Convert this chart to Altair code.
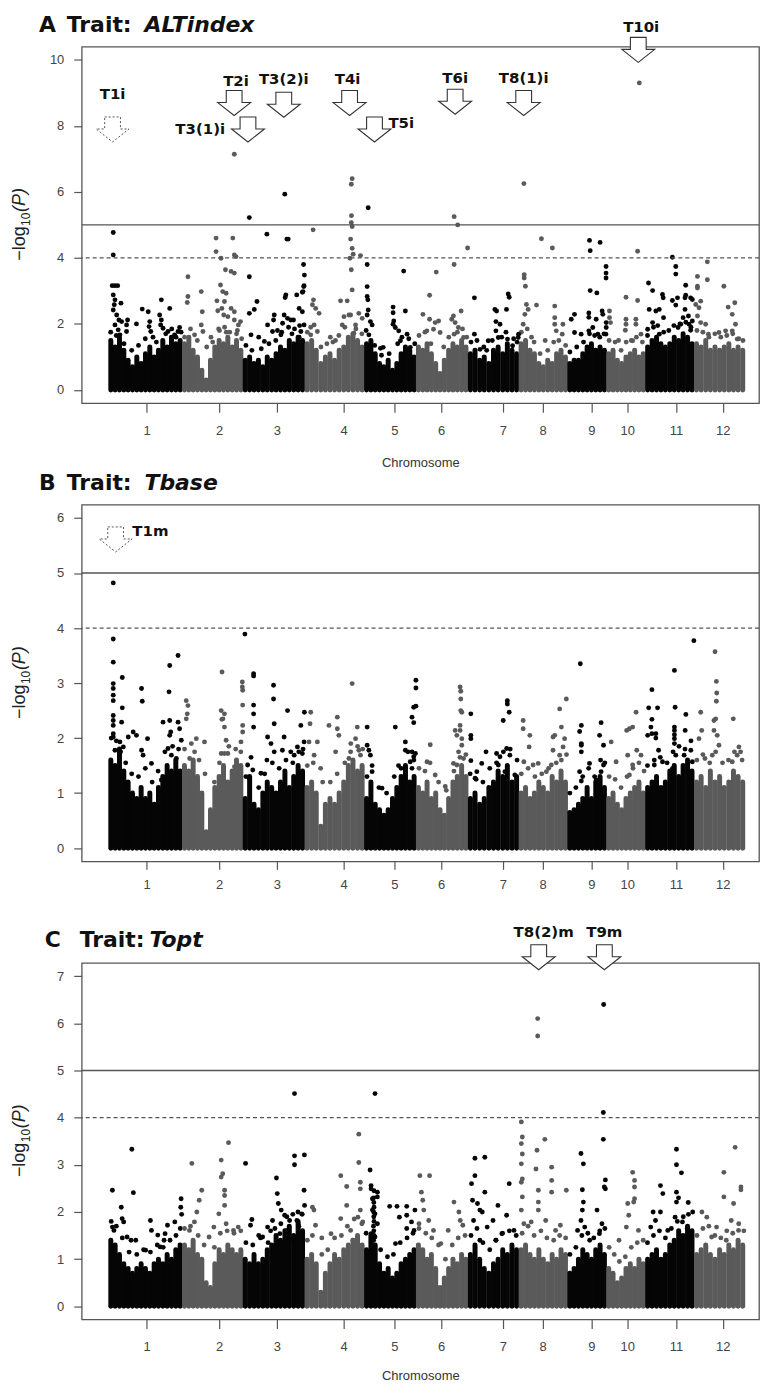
import altair as alt
import numpy as np
import pandas as pd

# ---------------- data ----------------
CHR_LEN = [43.2, 35.6, 36.2, 35.0, 30.4, 30.4, 29.8, 28.6, 22.8, 22.8, 28.6, 29.8]
CHR_TICK = [22.2, 64.8, 98.7, 137.8, 167.6, 195.0, 231.2, 254.5, 283.1, 304.1, 332.7, 360.1]
X_DOMAIN = [-15.8, 381.4]

# heights (-log10 P) reached by the dense columns of SNPs, evenly spaced along each chromosome
A_COL = [
    [1.5, 1.3, 1.6, 1.2, 0.9, 0.7, 1.0, 0.8, 1.1, 1.3, 1.0, 1.2, 1.5, 1.3, 1.6, 1.4, 1.5],
    [1.4, 1.6, 1.2, 1.0, 0.6, 0.3, 0.9, 1.3, 1.5, 1.4, 1.6, 1.3, 1.5, 1.2],
    [0.9, 1.0, 0.8, 0.9, 0.7, 1.0, 0.9, 1.1, 1.3, 1.2, 1.5, 1.4, 1.6, 1.5],
    [1.4, 1.5, 1.2, 0.8, 1.0, 1.1, 0.9, 1.2, 1.3, 1.6, 1.7, 1.5, 1.3],
    [1.4, 1.5, 1.1, 0.8, 0.7, 0.9, 0.6, 0.8, 1.1, 1.3, 1.2, 1.0],
    [1.3, 1.2, 1.4, 1.1, 0.8, 0.5, 0.9, 1.2, 1.4, 1.3, 1.5, 1.3],
    [1.1, 1.2, 0.9, 1.0, 0.8, 1.2, 1.3, 1.1, 1.4, 1.2, 1.1],
    [1.4, 1.5, 1.2, 1.1, 0.8, 0.7, 0.9, 0.8, 1.1, 1.2, 1.0],
    [0.8, 0.9, 0.9, 1.1, 1.3, 1.4, 1.2, 1.3, 1.2],
    [1.1, 1.2, 0.9, 0.8, 1.0, 1.1, 1.2, 1.0, 1.1],
    [1.3, 1.5, 1.6, 1.4, 1.3, 1.4, 1.6, 1.5, 1.7, 1.6, 1.4],
    [1.4, 1.3, 1.5, 1.2, 1.3, 1.2, 1.3, 1.4, 1.2, 1.3, 1.2],
]
B_COL = [
    [1.6, 1.5, 1.8, 1.4, 1.2, 1.0, 0.9, 1.1, 0.9, 1.0, 0.8, 1.1, 1.3, 1.5, 1.4, 1.6, 1.4],
    [1.5, 1.4, 1.6, 1.3, 1.0, 0.3, 0.7, 1.1, 1.3, 1.5, 1.2, 1.4, 1.6, 1.5],
    [0.9, 1.3, 0.8, 0.7, 1.0, 1.2, 1.1, 1.0, 1.2, 1.4, 1.1, 1.3, 1.5, 1.4],
    [1.1, 1.2, 1.0, 0.4, 0.8, 0.9, 0.8, 1.0, 1.2, 1.5, 1.6, 1.4, 1.5],
    [0.9, 1.2, 0.8, 0.7, 0.6, 0.7, 0.9, 1.1, 1.3, 1.5, 1.2, 1.3],
    [1.1, 1.0, 1.2, 0.9, 1.0, 0.7, 0.6, 0.9, 1.2, 1.3, 1.5, 1.3],
    [0.9, 1.0, 0.8, 0.9, 1.1, 1.2, 1.4, 1.3, 1.5, 1.2, 1.3],
    [1.0, 1.1, 0.9, 1.0, 1.2, 1.1, 1.0, 1.3, 1.2, 1.4, 1.2],
    [0.65, 0.7, 0.8, 0.9, 1.1, 0.9, 1.2, 1.3, 1.1],
    [0.9, 1.0, 0.8, 0.7, 0.9, 1.0, 1.1, 1.2, 1.0],
    [1.1, 1.2, 1.3, 1.1, 1.2, 1.4, 1.5, 1.3, 1.5, 1.6, 1.4],
    [1.2, 1.3, 1.1, 1.4, 1.2, 1.3, 1.1, 1.2, 1.4, 1.3, 1.2],
]
C_COL = [
    [1.4, 1.3, 1.1, 0.9, 0.8, 0.7, 0.8, 0.9, 0.8, 0.7, 0.9, 1.0, 0.9, 1.1, 1.0, 1.2, 1.3],
    [1.3, 1.2, 1.4, 1.1, 1.0, 0.5, 0.4, 0.9, 1.2, 1.1, 1.3, 1.2, 1.1, 1.2],
    [1.0, 0.9, 1.1, 0.9, 1.0, 1.2, 1.3, 1.5, 1.4, 1.6, 1.7, 1.5, 1.8, 1.6],
    [1.0, 1.1, 0.9, 0.3, 0.7, 0.9, 1.1, 1.0, 1.2, 1.3, 1.4, 1.5, 1.3],
    [1.2, 1.5, 1.3, 0.9, 0.7, 0.8, 0.6, 0.7, 0.9, 1.0, 1.1, 1.2],
    [1.3, 1.2, 1.0, 1.1, 0.8, 0.4, 0.6, 0.8, 1.0, 0.9, 1.1, 1.0],
    [1.1, 1.3, 1.0, 0.8, 0.7, 0.9, 1.0, 1.2, 1.1, 1.3, 1.2],
    [1.2, 1.3, 1.1, 1.0, 1.2, 1.0, 0.9, 1.1, 1.0, 1.2, 1.1],
    [0.7, 0.8, 1.0, 1.2, 1.1, 1.0, 1.2, 1.3, 1.1],
    [0.8, 0.7, 0.5, 0.6, 0.8, 0.9, 0.8, 1.0, 0.9],
    [1.0, 1.1, 1.2, 1.0, 1.1, 1.3, 1.4, 1.6, 1.5, 1.7, 1.6],
    [1.1, 1.2, 1.3, 1.1, 1.0, 1.2, 1.1, 1.3, 1.2, 1.4, 1.3],
]

# loose SNPs fringing the top of the dense mass: (cumulative position Mb, -log10 P)
A_FRINGE = [
    [(1.2,1.75),(4.5,1.65),(9.0,1.4),(13.5,1.2),(17.5,1.35),(21.5,1.55),(26.0,1.6),(28.0,1.45),(33.5,1.7),(37.0,1.85),(39.5,1.6),(42.5,1.75)],
    [(44.5,1.6),(48.0,1.85),(52.0,1.5),(57.5,1.3),(61.0,1.45),(64.5,1.85),(68.0,1.9),(71.0,1.75),(75.5,1.8),(78.0,1.55)],
    [(80.5,1.35),(84.0,1.2),(89.5,1.25),(94.0,1.4),(98.0,1.5),(101.5,1.75),(105.5,1.9),(109.0,1.85),(112.0,1.95)],
    [(116.5,1.75),(118.5,1.9),(124.5,1.3),(128.0,1.4),(131.5,1.45),(135.0,1.65),(138.5,1.9),(145.0,1.85),(148.5,1.7)],
    [(151.0,1.8),(156.0,1.35),(160.0,1.05),(164.5,1.1),(169.5,1.4),(172.0,1.6),(176.0,1.55),(179.5,1.4)],
    [(182.0,1.65),(185.5,1.75),(189.0,1.4),(196.5,1.3),(199.5,1.6),(204.5,1.75),(207.5,1.85),(210.0,1.6)],
    [(212.5,1.45),(216.0,1.5),(220.0,1.3),(225.0,1.5),(230.5,1.6),(233.0,1.75),(237.5,1.55),(239.5,1.45)],
    [(242.0,1.75),(245.5,1.85),(249.5,1.45),(253.0,1.1),(257.5,1.2),(261.0,1.45),(264.0,1.5),(268.0,1.35)],
    [(270.5,1.15),(274.5,1.3),(278.5,1.45),(282.0,1.7),(285.0,1.65),(288.0,1.6),(290.5,1.7)],
    [(293.5,1.5),(297.0,1.45),(300.5,1.2),(303.5,1.45),(306.5,1.5),(309.5,1.6),(313.0,1.45)],
    [(316.0,1.65),(319.5,1.9),(322.0,1.95),(325.5,1.75),(328.5,1.8),(331.5,1.95),(335.0,2.0),(338.5,2.05),(341.5,1.9)],
    [(345.0,1.8),(348.5,1.75),(352.0,1.6),(355.5,1.7),(359.0,1.6),(362.5,1.65),(366.0,1.7),(369.5,1.55),(372.0,1.5)],
]
B_FRINGE = [
    [(1.5,2.0),(4.5,1.95),(7.0,1.75),(10.0,1.55),(13.5,1.35),(17.5,1.3),(21.5,1.45),(25.5,1.2),(29.0,1.4),(33.0,1.75),(37.5,1.85),(41.0,1.8)],
    [(44.5,1.8),(48.5,1.9),(53.0,1.6),(56.5,1.35),(62.0,1.2),(65.0,1.55),(70.5,1.85),(74.5,1.8),(77.5,1.75)],
    [(80.5,1.3),(83.5,1.65),(88.0,1.1),(91.5,1.35),(96.0,1.55),(100.0,1.45),(104.0,1.6),(108.0,1.55),(111.5,1.75),(114.0,1.8)],
    [(116.5,1.5),(120.0,1.55),(125.5,1.2),(130.0,1.2),(134.0,1.35),(138.5,1.55),(142.0,1.9),(146.0,1.85),(149.0,1.8)],
    [(151.5,1.3),(154.5,1.5),(158.5,1.1),(163.0,1.0),(167.5,1.3),(171.5,1.45),(175.5,1.75),(179.0,1.6)],
    [(182.0,1.45),(185.5,1.4),(188.5,1.55),(193.5,1.2),(198.0,1.05),(202.5,1.4),(206.0,1.65),(209.5,1.7)],
    [(212.0,1.35),(215.5,1.25),(219.5,1.2),(223.5,1.45),(227.5,1.55),(231.5,1.75),(235.5,1.8),(239.5,1.6)],
    [(242.0,1.35),(246.0,1.45),(250.0,1.3),(254.0,1.35),(258.0,1.45),(262.5,1.55),(265.5,1.6),(268.5,1.7)],
    [(270.5,1.0),(274.0,1.1),(278.0,1.3),(281.5,1.45),(285.0,1.3),(288.5,1.6),(291.0,1.55)],
    [(293.5,1.3),(297.0,1.25),(300.5,1.1),(304.0,1.3),(307.5,1.45),(311.0,1.55),(314.0,1.4)],
    [(316.0,1.5),(320.0,1.6),(323.5,1.65),(327.5,1.55),(331.0,1.75),(334.5,1.85),(338.0,1.8),(341.5,1.95)],
    [(345.0,1.6),(348.5,1.7),(352.5,1.55),(356.0,1.75),(360.0,1.55),(363.5,1.6),(367.0,1.75),(371.5,1.6)],
]
C_FRINGE = [
    [(1.5,1.8),(4.5,1.7),(8.0,1.45),(12.0,1.15),(16.5,1.1),(20.5,1.2),(24.5,1.15),(28.5,1.3),(32.0,1.25),(36.0,1.4),(39.5,1.5),(42.0,1.65)],
    [(44.5,1.65),(48.0,1.7),(52.5,1.5),(56.0,1.3),(62.0,1.25),(65.5,1.55),(69.5,1.6),(73.5,1.55),(77.5,1.6)],
    [(80.5,1.35),(84.5,1.3),(89.0,1.45),(93.5,1.35),(97.5,1.65),(101.0,1.75),(104.5,1.9),(108.0,1.95),(111.0,2.0),(113.5,1.95)],
    [(116.5,1.4),(119.5,1.5),(125.0,1.1),(128.5,1.2),(132.5,1.45),(136.5,1.5),(140.0,1.7),(144.0,1.85),(148.5,1.75)],
    [(151.0,1.55),(159.5,1.2),(163.5,1.05),(167.0,1.1),(171.0,1.35),(175.0,1.45),(178.5,1.55)],
    [(182.0,1.65),(186.0,1.55),(189.5,1.45),(193.5,1.3),(197.5,1.0),(201.5,1.3),(205.0,1.45),(209.0,1.5)],
    [(212.5,1.5),(216.0,1.65),(219.5,1.35),(223.5,1.2),(227.0,1.4),(231.0,1.55),(235.0,1.6),(239.0,1.5)],
    [(242.5,1.55),(246.0,1.7),(249.5,1.5),(253.5,1.6),(257.0,1.45),(261.0,1.4),(264.5,1.5),(268.0,1.45)],
    [(270.5,1.1),(274.0,1.25),(277.5,1.5),(281.0,1.55),(284.5,1.45),(288.0,1.6),(291.0,1.65)],
    [(293.5,1.25),(296.5,1.1),(299.5,0.95),(303.0,1.05),(306.5,1.25),(310.0,1.35),(313.5,1.4)],
    [(316.0,1.35),(319.5,1.5),(323.0,1.6),(326.5,1.45),(330.0,1.65),(333.5,1.8),(337.0,1.9),(340.0,1.95),(342.5,2.0)],
    [(345.0,1.5),(348.5,1.65),(352.0,1.7),(355.5,1.5),(359.0,1.45),(362.5,1.6),(366.0,1.55),(369.5,1.75),(372.5,1.6)],
]

# individual SNPs standing clear of the mass: (cumulative position Mb, -log10 P)
A_PTS = [
    [(2.7,4.77),(2.7,4.09),(2.1,3.16),(3.7,3.16),(5.3,3.16),(2.7,2.88),(3.7,2.73),(3.3,2.58),(2.7,2.42),(4.7,2.27),(6.0,2.12),(7.6,2.07),(3.7,1.97),(5.6,1.82),(10.5,1.77),(6.6,1.67),(7.2,2.63),(11.1,2.12),(10.5,1.97),(16.3,2.0),(19.7,2.45),(23.2,2.37),(24.1,2.07),(23.7,1.92),(24.7,1.77),(30.9,2.73),(29.9,2.27),(30.9,2.12),(30.5,1.97),(31.9,1.87),(35.8,2.47),(34.8,1.77),(38.7,1.67),(40.7,1.77),(41.6,1.89)],
    [(46.5,3.43),(46.5,2.83),(46.1,2.65),(54.3,2.98),(54.9,2.37),(54.3,1.97),(55.3,1.77),(50.4,1.67),(63.0,4.6),(63.0,4.19),(65.9,3.99),(68.5,3.64),(71.8,3.59),(73.7,3.54),(65.6,3.18),(66.9,2.98),(68.9,2.93),(67.9,2.68),(66.4,2.47),(67.5,2.27),(69.9,2.22),(71.8,2.47),(73.7,2.37),(73.7,2.12),(76.1,1.97),(77.3,2.07),(72.8,4.6),(73.7,4.09),(74.7,4.04),(63.5,2.7),(64.0,2.4),(65.0,1.8),(60.0,1.6),(69.0,1.75),(75.0,1.7),(73.7,7.14)],
    [(82.5,5.22),(82.5,3.43),(82.5,2.32),(83.5,1.67),(87.0,2.68),(85.4,2.44),(92.8,4.72),(93.2,1.97),(97.1,2.27),(96.7,2.12),(96.1,1.77),(91.3,1.47),(103.3,5.93),(104.5,4.57),(105.3,4.57),(103.9,2.88),(103.5,2.8),(102.9,2.27),(104.9,2.17),(106.8,2.12),(102.0,2.02),(101.0,1.67),(108.4,2.12),(110.3,2.88),(111.7,2.47),(113.6,2.96),(114.4,3.13),(114.3,3.8),(114.8,3.48),(114.6,3.16),(114.0,2.98),(113.6,2.37),(112.7,1.77),(114.6,1.97),(111.7,1.6),(88.0,1.6),(99.0,1.8),(107.5,1.7)],
    [(119.9,4.85),(120.1,2.73),(119.5,2.58),(121.4,2.47),(123.4,2.32),(120.5,1.97),(122.4,1.77),(118.5,1.67),(136.0,2.7),(139.9,2.7),(137.0,1.97),(138.0,2.22),(140.9,2.27),(142.8,6.4),(142.3,6.23),(142.4,5.28),(142.3,5.07),(142.8,4.95),(141.9,4.57),(142.8,4.29),(143.4,4.11),(147.7,4.07),(141.5,3.99),(142.3,3.64),(142.8,3.03),(141.9,2.27),(144.8,1.97),(146.7,2.32),(148.7,2.17),(143.8,1.72),(130.0,1.6),(133.0,1.5)],
    [(152.2,5.52),(151.6,3.8),(151.6,3.13),(151.6,2.83),(152.0,2.73),(152.2,2.42),(151.6,2.27),(153.5,2.07),(154.5,1.97),(159.4,1.26),(152.6,1.67),(173.0,3.6),(166.8,2.51),(166.8,2.34),(167.2,2.09),(166.8,1.99),(168.1,1.89),(170.1,1.79),(174.0,2.39),(175.0,1.69),(171.1,1.49),(161.0,1.29),(176.9,1.29)],
    [(202.6,5.25),(204.7,5.0),(210.5,4.3),(202.6,3.8),(192.1,3.57),(188.2,2.87),(184.3,2.29),(188.2,2.14),(191.5,2.04),(193.5,2.09),(190.5,1.84),(186.6,1.79),(194.4,1.74),(201.2,2.14),(202.2,2.24),(203.2,2.04),(206.7,2.39),(205.1,1.89),(202.6,1.69),(208.1,1.59)],
    [(214.5,2.79),(214.5,1.69),(217.8,1.23),(221.7,1.2),(222.6,1.49),(226.5,2.44),(227.5,2.39),(227.1,2.07),(229.5,1.99),(227.1,1.79),(228.5,1.59),(234.3,2.91),(234.9,2.81),(233.3,2.44),(233.9,1.54),(236.9,1.34),(240.2,1.59),(240.4,1.69)],
    [(243.5,6.25),(243.7,3.49),(243.7,3.39),(244.4,3.14),(245.0,2.59),(244.1,2.29),(246.0,2.44),(243.1,1.99),(250.9,2.57),(253.8,4.58),(260.2,4.3),(261.6,2.54),(261.6,2.19),(261.6,1.99),(262.5,1.79),(266.4,1.99),(266.0,1.69),(248.0,1.6),(256.0,1.5)],
    [(271.3,2.14),(273.2,2.29),(277.1,1.69),(273.2,1.74),(282.0,4.53),(282.4,4.22),(288.2,4.47),(282.4,3.01),(286.3,2.94),(281.6,2.33),(281.6,2.2),(285.9,2.14),(281.6,1.79),(283.9,1.89),(289.4,2.39),(289.8,2.29),(286.9,1.69),(291.7,3.74),(291.7,3.54),(291.7,3.39),(291.8,2.04),(291.8,1.89),(291.6,1.69)],
    [(293.7,2.39),(293.7,2.19),(294.3,2.04),(303.4,2.81),(303.4,2.14),(303.4,1.99),(303.0,1.81),(310.2,4.2),(310.2,2.71),(309.2,2.14),(309.2,1.99),(307.3,1.49),(312.2,1.69),(299.0,1.5),(311.2,9.3)],
    [(316.6,3.24),(319.0,3.01),(317.0,2.44),(319.0,2.04),(320.9,2.39),(322.9,2.44),(324.8,2.89),(325.2,2.79),(325.4,2.19),(316.1,1.84),(322.9,1.69),(330.6,4.02),(332.6,3.74),(332.6,3.51),(330.6,2.71),(332.6,2.57),(333.6,2.79),(338.4,3.17),(338.4,2.87),(338.0,2.79),(341.3,2.79),(342.3,2.74),(338.0,2.44),(336.9,2.19),(340.0,2.24),(333.9,1.89),(335.5,1.99),(340.4,1.99),(342.3,2.09),(341.3,1.81)],
    [(345.3,3.44),(345.3,3.14),(345.3,3.09),(347.2,2.69),(346.2,2.49),(344.3,2.59),(351.1,3.88),(351.1,3.34),(345.3,2.24),(347.2,2.04),(350.1,1.99),(351.7,1.69),(360.8,3.14),(363.3,2.51),(365.7,2.29),(367.2,2.64),(365.7,1.79),(361.8,1.79),(357.9,1.74),(367.6,1.99),(368.6,1.54)],
]
B_PTS = [
    [(2.7,4.82),(2.7,3.80),(2.7,3.38),(2.7,2.99),(2.7,2.9),(2.7,2.78),(2.7,2.68),(2.7,2.41),(2.7,2.32),(2.7,2.23),(2.7,2.08),(2.7,2.02),(8.0,3.1),(8.0,2.55),(7.6,2.29),(6.6,1.93),(8.6,1.84),(3.7,1.78),(11.5,2.02),(14.4,2.11),(16.3,2.05),(19.3,2.9),(19.7,2.67),(19.3,1.78),(20.2,1.69),(22.8,1.99),(25.1,1.54),(30.9,1.24),(35.8,3.32),(35.4,2.84),(40.7,3.5),(31.9,2.29),(35.8,2.32),(36.4,2.11),(35.8,2.05),(40.7,2.29),(41.6,2.17),(34.8,1.81),(39.7,1.63),(42.6,1.96),(36.8,1.69)],
    [(45.5,2.68),(46.5,2.59),(46.1,2.44),(45.5,2.35),(51.4,1.99),(56.2,1.93),(50.4,1.75),(47.5,1.63),(66.5,3.2),(66.0,2.5),(67.9,2.44),(67.0,2.35),(66.4,2.34),(67.9,2.2),(68.9,1.96),(66.0,1.72),(67.9,1.72),(69.9,1.72),(73.8,1.48),(78.4,3.02),(78.4,2.93),(78.6,2.87),(78.6,2.6),(78.6,2.23),(78.6,2.11),(77.6,1.93)],
    [(79.9,3.89),(85.0,3.17),(85.0,3.13),(85.0,2.6),(85.0,2.44),(85.0,2.2),(81.5,1.51),(82.5,1.27),(84.5,1.42),(89.3,1.36),(93.2,2.02),(95.2,1.9),(96.7,2.96),(96.7,2.71),(97.1,2.26),(97.1,1.75),(92.8,1.6),(102.9,2.02),(104.9,2.5),(101.9,1.78),(106.8,1.75),(108.8,1.69),(112.7,2.23),(114.8,2.47),(110.7,1.84),(113.6,1.72),(114.6,1.93)],
    [(118.5,2.47),(118.1,2.26),(120.5,1.69),(117.5,1.93),(122.4,1.93),(124.3,1.45),(129.2,2.23),(134.1,2.38),(134.1,2.17),(133.1,1.75),(135.0,2.05),(142.8,2.99),(145.8,2.2),(144.8,1.99),(141.9,1.75),(140.9,1.63),(146.7,1.78),(147.7,1.69)],
    [(151.6,2.2),(152.6,1.78),(153.5,1.69),(151.6,1.87),(154.5,1.39),(160.3,1.09),(168.1,2.2),(180.2,3.05),(180.2,2.91),(180.2,2.58),(178.9,2.56),(177.9,2.38),(178.9,2.28),(174.0,1.93),(174.0,1.78),(177.9,1.75),(178.9,1.66),(179.9,1.72),(176.9,1.57),(177.9,1.45),(170.0,1.5)],
    [(188.6,1.88),(186.7,1.57),(191.5,1.33),(197.4,1.12),(203.2,2.14),(204.2,2.05),(206.1,2.93),(206.5,2.85),(206.5,2.71),(206.5,2.5),(207.1,2.47),(206.1,2.23),(206.1,2.14),(207.1,1.99),(207.1,1.87),(205.2,1.75),(208.1,1.63),(204.2,1.51),(202.2,1.54)],
    [(212.4,2.44),(212.4,2.05),(212.4,1.99),(212.4,1.59),(215.9,1.39),(218.8,1.54),(221.3,1.75),(214.9,1.27),(231.4,2.32),(233.8,2.68),(233.8,2.62),(234.9,2.47),(227.5,1.72),(229.5,1.66),(228.5,1.51),(233.4,1.81),(235.3,1.69),(232.4,1.39),(238.2,1.33)],
    [(243.1,2.32),(243.1,2.17),(247.0,2.05),(246.6,1.84),(243.5,1.57),(248.9,1.51),(251.9,1.54),(260.6,2.02),(261.6,2.05),(260.6,1.78),(264.5,2.53),(265.5,2.2),(266.5,1.84),(268.4,2.71),(267.4,1.99),(264.5,1.69),(259.6,1.51),(256.7,1.39)],
    [(276.6,3.35),(277.2,2.23),(276.2,2.12),(277.2,1.9),(277.2,1.87),(277.2,1.75),(276.2,1.39),(277.2,1.22),(282.0,1.54),(288.8,2.28),(287.9,2.05),(290.2,1.87),(290.2,1.51),(288.8,1.39),(285.9,1.24)],
    [(294.7,1.93),(297.6,1.57),(303.8,2.14),(305.4,2.17),(307.3,2.2),(309.3,2.47),(309.7,1.78),(307.3,1.51),(312.2,1.69),(304.4,1.69),(305.4,1.33)],
    [(318.6,2.88),(316.7,2.55),(321.9,2.55),(318.6,2.34),(318.0,2.2),(318.6,2.08),(320.9,2.08),(316.1,2.05),(320.9,2.0),(322.5,1.78),(324.8,1.57),(320.0,1.51),(331.8,3.23),(332.2,2.56),(331.8,2.2),(331.8,2.14),(331.8,2.06),(331.8,1.99),(331.8,1.9),(338.5,2.43),(338.1,2.14),(332.6,1.69),(337.5,1.69),(341.4,1.78),(342.3,1.57),(330.7,1.45),(343.2,3.77)],
    [(355.6,3.57),(356.4,3.03),(356.6,2.82),(356.4,2.67),(355.0,2.32),(356.0,2.35),(356.9,2.05),(357.9,1.87),(347.2,2.47),(347.8,2.14),(366.3,2.35),(369.6,1.84),(370.6,1.75),(368.6,1.69),(355.0,2.14),(354.0,1.69),(346.2,1.99),(349.7,1.63),(365.7,1.57)],
]
C_PTS = [
    [(2.2,2.46),(2.2,1.68),(3.1,1.61),(7.4,2.1),(7.9,1.86),(8.8,1.79),(10.8,1.47),(13.6,3.33),(14.5,2.41),(13.1,1.4),(15.9,1.4),(24.5,1.82),(25.1,1.61),(28.8,1.51),(33.1,1.54),(34.5,1.72),(38.8,1.79),(32.5,1.4),(21.7,1.19),(30.2,1.26),(42.5,2.28),(42.3,2.1),(42.8,1.95)],
    [(48.8,3.03),(54.6,2.46),(53.1,2.25),(51.7,2.0),(50.3,1.79),(47.4,1.61),(66.0,3.1),(66.9,2.81),(66.0,2.74),(70.3,3.47),(68.0,2.46),(68.0,2.35),(68.0,2.14),(64.6,1.96),(68.9,1.75),(61.7,1.68),(73.2,1.61),(76.0,1.68),(58.9,1.47)],
    [(80.3,3.03),(84.0,1.84),(83.2,1.72),(98.4,2.72),(98.9,2.39),(99.5,2.18),(101.2,2.04),(96.1,1.82),(93.2,1.68),(90.3,1.47),(109.0,4.51),(109.0,3.19),(109.0,3.0),(114.8,3.21),(114.6,2.46),(114.9,2.14),(113.2,1.96),(110.4,1.82),(106.1,1.82),(104.7,1.61),(107.5,1.4),(103.2,1.93),(100.4,1.54),(95.0,1.6),(111.5,1.7),(88.0,1.5)],
    [(119.5,2.1),(120.4,2.04),(121.3,1.72),(136.1,2.77),(139.6,2.54),(139.6,2.14),(136.1,1.86),(141.9,1.61),(146.7,3.65),(146.7,3.05),(147.6,2.63),(147.6,2.49),(147.6,2.04),(146.2,1.89),(149.0,1.79),(143.3,1.4),(130.4,1.54),(125.0,1.45)],
    [(153.3,2.89),(153.9,2.56),(153.9,2.49),(154.7,2.28),(154.7,2.04),(156.2,4.51),(157.6,2.42),(157.6,2.32),(156.2,1.96),(157.6,1.75),(153.9,1.54),(156.2,1.47),(164.8,2.12),(169.1,2.12),(174.8,2.12),(174.8,1.93),(170.5,1.89),(168.2,1.33),(174.8,1.65),(179.1,1.61),(177.6,1.79),(179.6,2.04),(155.5,1.3),(155.4,1.4),(155.6,1.5),(155.5,1.6),(155.3,1.7),(155.6,1.8),(155.5,1.9),(155.4,2.0),(155.6,2.1),(155.5,2.2),(155.4,2.3),(155.6,2.45)],
    [(182.5,2.77),(188.2,2.77),(183.4,2.42),(184.2,2.25),(184.8,2.04),(182.0,1.75),(187.7,1.82),(190.5,1.61),(202.5,2.21),(205.4,2.0),(206.2,1.82),(199.1,1.61),(207.7,1.72),(194.8,1.33)],
    [(212.8,2.6),(214.8,3.14),(214.8,2.77),(213.4,2.25),(216.3,2.18),(217.7,2.04),(219.1,2.0),(220.6,3.16),(220.6,2.42),(228.3,2.14),(234.9,2.6),(233.4,1.93),(225.4,1.82),(222.0,1.68),(230.6,1.54),(227.2,1.4),(237.7,1.61),(214.0,1.82),(217.7,1.4)],
    [(242.0,3.91),(242.6,3.59),(242.0,3.45),(242.6,3.23),(242.0,3.02),(242.6,2.7),(242.0,2.63),(242.6,2.32),(242.0,2.04),(243.5,1.75),(251.2,3.31),(250.6,2.91),(252.0,2.46),(252.0,2.21),(252.0,2.04),(255.8,3.54),(259.8,2.95),(259.8,2.67),(259.8,2.42),(268.4,2.46),(247.8,1.79),(256.3,1.82),(262.1,1.61),(264.9,1.72),(251.6,6.10),(251.6,5.73)],
    [(277.0,3.24),(278.4,3.02),(277.8,2.47),(278.4,2.21),(277.8,2.04),(277.0,1.82),(279.2,1.68),(286.4,2.04),(290.1,4.11),(290.1,3.54),(291.3,2.68),(290.7,2.53),(291.3,2.49),(287.8,1.54),(282.1,1.4),(275.0,1.61),(289.3,1.75),(290.3,6.40)],
    [(307.3,2.84),(308.4,2.67),(308.4,2.53),(304.4,2.18),(305.0,1.93),(308.4,2.28),(307.9,2.21),(303.6,1.68),(310.7,1.61),(299.3,1.4)],
    [(323.6,2.56),(325.0,2.39),(319.3,2.0),(323.6,2.0),(320.7,1.82),(317.9,1.68),(333.0,3.33),(333.0,3.0),(335.9,2.83),(333.0,2.42),(334.2,2.3),(333.0,2.21),(339.9,2.2),(332.2,1.89),(336.5,1.79),(339.3,1.65),(340.8,1.54),(327.9,1.61)],
    [(360.8,2.84),(360.8,2.32),(367.4,3.37),(370.8,2.53),(370.8,2.47),(366.5,2.18),(365.1,1.82),(369.4,1.61),(356.5,1.68),(350.8,1.89),(347.9,2.0),(362.2,1.4),(353.6,1.47)],
]

# QTL arrows: name, arrow x, arrow y, label x, label y, dashed outline
A_ARROWS = [
    ("T1i", 2.3, 7.89, 2.3, 8.95, True),
    ("T2i", 73.6, 8.69, 74.7, 9.37, False),
    ("T3(1)i", 81.7, 7.89, 53.7, 7.89, False),
    ("T3(2)i", 102.7, 8.64, 102.7, 9.43, False),
    ("T4i", 141.3, 8.69, 140.1, 9.43, False),
    ("T5i", 155.9, 7.89, 171.6, 8.10, False),
    ("T6i", 203.2, 8.73, 203.2, 9.46, False),
    ("T8(1)i", 243.4, 8.69, 243.4, 9.46, False),
    ("T10i", 310.6, 10.3, 312.3, 10.99, False),
]
B_ARROWS = [("T1m", 4.1, 5.61, 24.5, 5.77, True)]
C_ARROWS = [
    ("T8(2)m", 252.2, 7.40, 255.1, 7.94, False),
    ("T9m", 290.7, 7.40, 290.7, 7.94, False),
]

# ---------------- helpers ----------------
STARTS = np.concatenate([[0.0], np.cumsum(CHR_LEN)[:-1]])
BLACK, GRAY = "#050505", "#5a5a5a"
CSCALE = alt.Scale(domain=["odd", "even"], range=[BLACK, GRAY])
AXF = "Liberation Sans"
BOLDF = "DejaVu Sans"
ARROW = "M -0.48 -0.76 L 0.48 -0.76 L 0.48 -0.03 L 1 -0.03 L 0 0.76 L -1 -0.03 L -0.48 -0.03 Z"
LABEL_EXPR = "'' + (indexof([" + ",".join(repr(t) for t in CHR_TICK) + "], datum.value) + 1)"
W, H = 680, 358


def parity(c):
    return "odd" if c % 2 == 1 else "even"


def col_df(cols):
    rows = []
    for i, hs in enumerate(cols):
        n = len(hs)
        step = CHR_LEN[i] / n
        for j, h in enumerate(hs):
            rows.append(dict(pos=float(STARTS[i] + (j + 0.5) * step), v=h, chr=i + 1, par=parity(i + 1)))
    return pd.DataFrame(rows)


def pts_df(*lists):
    rows = []
    for pts in lists:
        for i, lst in enumerate(pts):
            for x, v in lst:
                rows.append(dict(pos=x, v=v, chr=i + 1, par=parity(i + 1)))
    return pd.DataFrame(rows)


def panel(cols, fringe, pts, arrows, ydom, yticks, title_parts, title_y,
          tick_x, lab_pad, xtitle, xtitle_pad):
    xs = alt.Scale(domain=X_DOMAIN, nice=False, zero=False)
    ys = alt.Scale(domain=ydom, nice=False, zero=False)
    xaxis_kw = dict(values=CHR_TICK, labelExpr=LABEL_EXPR, grid=False, domain=False,
                    tickSize=tick_x, tickColor="#555", tickWidth=1.2,
                    labelFont=AXF, labelFontSize=13, labelColor="#444",
                    labelPadding=lab_pad, labelAngle=0)
    if xtitle:
        xaxis = alt.Axis(title=xtitle, titleFont=AXF, titleFontSize=13,
                         titleFontWeight="normal", titleColor="#333",
                         titlePadding=xtitle_pad, **xaxis_kw)
    else:
        xaxis = alt.Axis(title=None, **xaxis_kw)
    yaxis = alt.Axis(values=yticks, format="d", title=None, grid=False, domain=False,
                     tickSize=8, tickColor="#555", tickWidth=1.2,
                     labelFont=AXF, labelFontSize=13, labelColor="#444", labelPadding=10)
    X = alt.X("pos:Q", scale=xs, axis=xaxis)
    Y = alt.Y("v:Q", scale=ys, axis=yaxis)
    col = alt.Color("par:N", scale=CSCALE, legend=None)

    c = col_df(cols)
    p = pts_df(fringe, pts)
    layers = []
    layers.append(alt.Chart(c).mark_rule(strokeWidth=5, strokeCap="round").encode(
        x=X, y=Y, y2=alt.datum(0), color=col))
    layers.append(alt.Chart(p).mark_circle(size=24, opacity=1).encode(x=X, y=Y, color=col))
    layers.append(alt.Chart(pd.DataFrame({"v": [5]})).mark_rule(color="#555", strokeWidth=1.4).encode(y=Y))
    layers.append(alt.Chart(pd.DataFrame({"v": [4]})).mark_rule(color="#555", strokeWidth=1.2,
                                                                  strokeDash=[4, 3]).encode(y=Y))
    adf = pd.DataFrame([dict(name=a[0], pos=a[1], v=a[2], lx=a[3], ly=a[4], dashed=a[5]) for a in arrows])
    solid = adf[~adf["dashed"]]
    dashed = adf[adf["dashed"]]
    if len(solid):
        layers.append(alt.Chart(solid).mark_point(shape=ARROW, size=1089, filled=True, fill="white",
                                                  stroke="#333", strokeWidth=1.1, opacity=1).encode(x=X, y=Y))
    if len(dashed):
        layers.append(alt.Chart(dashed).mark_point(shape=ARROW, size=1089, filled=True, fill="white",
                                                   stroke="#555", strokeWidth=1.0, strokeDash=[2, 2],
                                                   opacity=1).encode(x=X, y=Y))
    layers.append(alt.Chart(adf).mark_text(font=BOLDF, fontWeight="bold", fontSize=15, color="#111").encode(
        x=alt.X("lx:Q", scale=xs, axis=xaxis), y=alt.Y("ly:Q", scale=ys, axis=yaxis), text="name:N"))

    one = pd.DataFrame({"k": [0]})
    for txt, xoff, italic in title_parts:
        layers.append(alt.Chart(one).mark_text(
            text=txt, font=BOLDF, fontSize=22, fontWeight="bold",
            fontStyle="italic" if italic else "normal", align="left", baseline="alphabetic",
            color="#111").encode(x=alt.value(xoff), y=alt.value(title_y)))

    # y title: -log10(P)
    ybot = H / 2 + 36
    layers.append(alt.Chart(one).mark_text(text="\u2212log", font=AXF, fontSize=18, angle=270,
                                           align="left", baseline="alphabetic", color="#222").encode(
        x=alt.value(-57), y=alt.value(ybot)))
    layers.append(alt.Chart(one).mark_text(text="10", font=AXF, fontSize=12, angle=270,
                                           align="left", baseline="alphabetic", color="#222").encode(
        x=alt.value(-52), y=alt.value(ybot - 35)))
    layers.append(alt.Chart(one).mark_text(text="(P)", font=AXF, fontSize=18, fontStyle="italic", angle=270,
                                           align="left", baseline="alphabetic", color="#222").encode(
        x=alt.value(-57), y=alt.value(ybot - 49)))

    return alt.layer(*layers).properties(width=W, height=H)


pA = panel(A_COL, A_FRINGE, A_PTS, A_ARROWS, [-0.4, 10.4], [0, 2, 4, 6, 8, 10],
           [("A", -43, False), ("Trait:", -15, False), ("ALTindex", 63, True)], -15,
           9, 12, "Chromosome", 20)
pB = panel(B_COL, B_FRINGE, B_PTS, B_ARROWS, [-0.24, 6.24], [0, 1, 2, 3, 4, 5, 6],
           [("B", -43, False), ("Trait:", -15, False), ("Tbase", 63, True)], -15,
           8, 9, None, 0)
pC = panel(C_COL, C_FRINGE, C_PTS, C_ARROWS, [-0.28, 7.28], [0, 1, 2, 3, 4, 5, 6, 7],
           [("C", -37, False), ("Trait:", -2, False), ("Topt", 68, True)], -16,
           9, 12, "Chromosome", 16)

chart = alt.vconcat(pA, pB, pC, spacing=102, bounds="flush").properties(
    padding={"left": 2, "top": 2, "right": 0, "bottom": 0}
).configure_view(stroke="#555", strokeWidth=1.3)

chart.save("out.html", embed_options={"renderer": "svg", "actions": False})
